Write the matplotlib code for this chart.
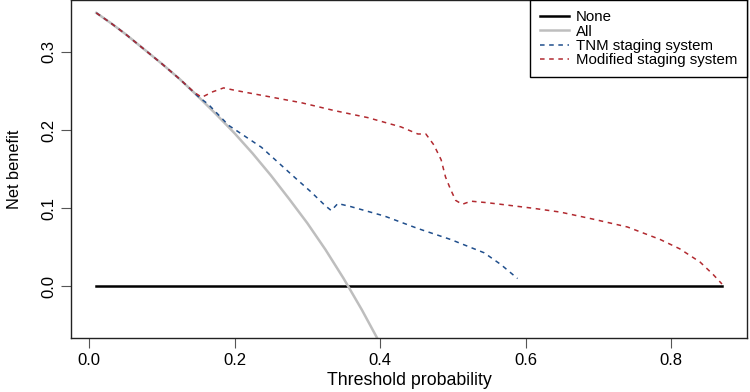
import matplotlib.pyplot as plt

plt.rcParams['font.family'] = ['Liberation Sans', 'DejaVu Sans']

# Decision curve values
none_x = [0.01, 0.87]
none_y = [0.0, 0.0]

all_x = [0.01, 0.03, 0.05, 0.075, 0.10, 0.125, 0.15, 0.175, 0.20, 0.225,
         0.25, 0.275, 0.30, 0.325, 0.35, 0.375, 0.40]
all_y = [0.350, 0.337, 0.323, 0.304, 0.285, 0.265, 0.243, 0.220, 0.196, 0.170,
         0.142, 0.112, 0.081, 0.047, 0.010, -0.030, -0.073]

tnm_x = [0.01, 0.03, 0.05, 0.075, 0.10, 0.125, 0.15, 0.164, 0.192, 0.237,
         0.282, 0.305, 0.325, 0.333, 0.342, 0.360, 0.406, 0.452, 0.497,
         0.543, 0.566, 0.589]
tnm_y = [0.350, 0.337, 0.323, 0.304, 0.285, 0.265, 0.243, 0.233, 0.206, 0.178,
         0.140, 0.121, 0.103, 0.097, 0.106, 0.102, 0.090, 0.074, 0.060,
         0.043, 0.028, 0.010]

mod_x = [0.01, 0.03, 0.05, 0.075, 0.10, 0.125, 0.145, 0.155, 0.170, 0.185,
         0.200, 0.246, 0.292, 0.337, 0.383, 0.429, 0.452, 0.463, 0.474,
         0.484, 0.490, 0.497, 0.504, 0.513, 0.525, 0.548, 0.566, 0.610,
         0.648, 0.693, 0.740, 0.785, 0.812, 0.840, 0.858, 0.870]
mod_y = [0.350, 0.337, 0.323, 0.304, 0.285, 0.265, 0.248, 0.242, 0.249, 0.254,
         0.251, 0.243, 0.235, 0.225, 0.216, 0.204, 0.195, 0.195, 0.181,
         0.162, 0.140, 0.124, 0.110, 0.105, 0.109, 0.107, 0.105, 0.100,
         0.095, 0.086, 0.076, 0.060, 0.048, 0.031, 0.015, 0.003]

fig = plt.figure(figsize=(7.5, 3.92), dpi=100)
ax = fig.add_axes([0.095, 0.138, 0.901, 0.861])

ax.plot(none_x, none_y, color='black', lw=1.8, label='None')
ax.plot(all_x, all_y, color='#BEBEBE', lw=1.8, label='All')
ax.plot(tnm_x, tnm_y, color='#1F4E8C', lw=1.1, dashes=(3, 3),
        label='TNM staging system')
ax.plot(mod_x, mod_y, color='#B22A30', lw=1.1, dashes=(3, 3),
        label='Modified staging system')

ax.set_xlim(-0.0244, 0.9044)
ax.set_ylim(-0.066, 0.366)
ax.set_xticks([0.0, 0.2, 0.4, 0.6, 0.8])
ax.set_xticklabels(['0.0', '0.2', '0.4', '0.6', '0.8'])
ax.set_yticks([0.0, 0.1, 0.2, 0.3])
ax.set_yticklabels(['0.0', '0.1', '0.2', '0.3'], rotation=90, va='center')
ax.tick_params(direction='out', length=7, width=0.8, color='#555555',
               labelsize=12, pad=4)
for s in ax.spines.values():
    s.set_linewidth(1.0)
    s.set_color('#222222')

ax.set_xlabel('Threshold probability', fontsize=12.8, labelpad=3)
ax.set_ylabel('Net benefit', fontsize=11.8, labelpad=14)

leg = ax.legend(loc='upper right', borderaxespad=0, fontsize=10.8,
                handlelength=1.95, handletextpad=0.45, labelspacing=0.03,
                borderpad=0.65, fancybox=False, framealpha=1)
leg.get_frame().set_edgecolor('black')
leg.get_frame().set_linewidth(1.0)

fig.savefig('out.png', dpi=100)
